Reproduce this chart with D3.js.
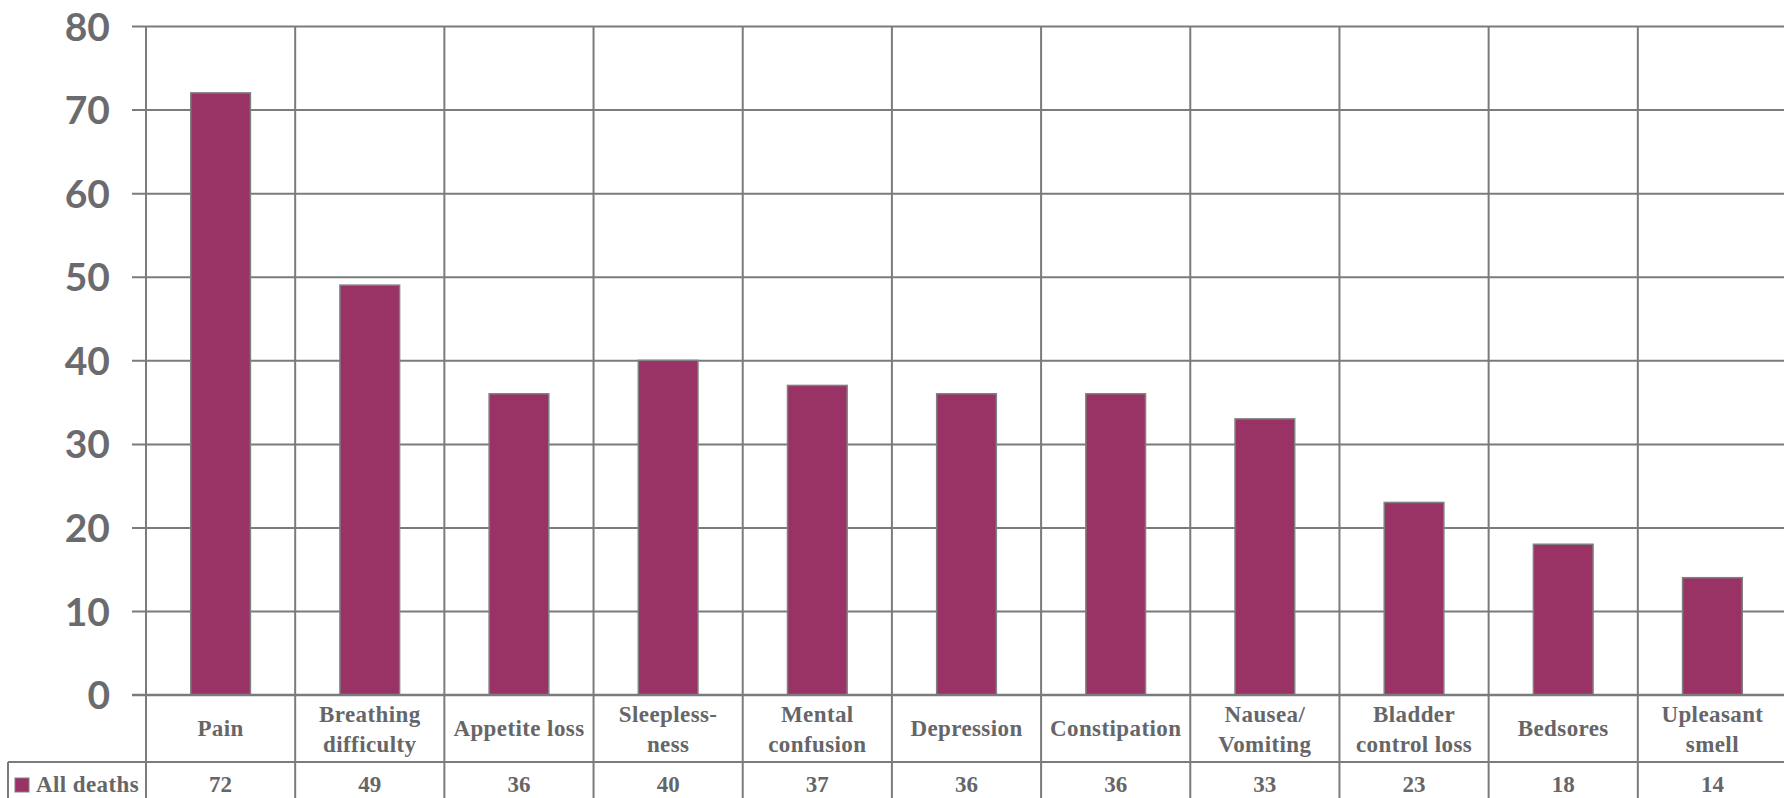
<!DOCTYPE html>
<html>
<head>
<meta charset="utf-8">
<script src="https://cdn.jsdelivr.net/npm/d3@7"></script>
<style>
  html, body { margin: 0; padding: 0; background: #fff; }
  svg { display: block; }
</style>
</head>
<body>
<script>
// ---- data ----
const categories = [
  ["Pain"],
  ["Breathing", "difficulty"],
  ["Appetite loss"],
  ["Sleepless-", "ness"],
  ["Mental", "confusion"],
  ["Depression"],
  ["Constipation"],
  ["Nausea/", "Vomiting"],
  ["Bladder", "control loss"],
  ["Bedsores"],
  ["Upleasant", "smell"]
];
const seriesName = "All deaths";
const values = [72, 49, 36, 40, 37, 36, 36, 33, 23, 18, 14];
const yTicks = [0, 10, 20, 30, 40, 50, 60, 70, 80];

// ---- layout ----
const W = 1784, H = 798;
const pLeft = 146, pRight = 1787, pTop = 26, pBottom = 694.7;
const row1 = 762, tableLeft = 8;
const gridColor = "#7b7b7e";
const textGray = "#666669";
const barColor = "#993366";

const svg = d3.select("body").append("svg").attr("width", W).attr("height", H);

const keys = categories.map((d, i) => i);
const x = d3.scaleBand().domain(keys).range([pLeft, pRight]).paddingInner(0).paddingOuter(0);
const y = d3.scaleLinear().domain([0, 80]).range([pBottom, pTop]);

// horizontal gridlines with ticks
const yAxis = d3.axisLeft(y).tickValues(yTicks).tickSize(pRight - pLeft + 14).tickPadding(22).tickFormat(d3.format("d"));
const gy = svg.append("g").attr("transform", `translate(${pRight},0)`).call(yAxis);
gy.select(".domain").remove();
gy.selectAll(".tick line").attr("stroke", gridColor).attr("stroke-width", 2);
gy.selectAll(".tick text")
  .attr("fill", "#6b6b6f")
  .attr("font-family", "Lato, 'Open Sans', sans-serif")
  .attr("font-weight", "bold")
  .attr("font-size", 39)
  .attr("dy", "0.36em");

// vertical column lines (plot + table)
const bounds = keys.map(k => x(k)).concat([pRight]);
svg.append("g").selectAll("line").data(bounds).join("line")
  .attr("x1", d => d).attr("x2", d => d)
  .attr("y1", pTop).attr("y2", H)
  .attr("stroke", gridColor).attr("stroke-width", 2);

// table lines
svg.append("line").attr("x1", tableLeft).attr("x2", pRight).attr("y1", row1).attr("y2", row1)
  .attr("stroke", gridColor).attr("stroke-width", 2);
svg.append("line").attr("x1", tableLeft).attr("x2", tableLeft).attr("y1", row1).attr("y2", H)
  .attr("stroke", gridColor).attr("stroke-width", 2);

// bars
const bw = x.bandwidth() * 0.4;
svg.append("g").selectAll("rect").data(values).join("rect")
  .attr("x", (d, i) => x(i) + (x.bandwidth() - bw) / 2)
  .attr("width", bw)
  .attr("y", d => y(d))
  .attr("height", d => y(0) - y(d))
  .attr("fill", barColor)
  .attr("stroke", "#808080")
  .attr("stroke-width", 1.5);

// redraw baseline on top
svg.append("line").attr("x1", pLeft - 14).attr("x2", pRight).attr("y1", y(0)).attr("y2", y(0))
  .attr("stroke", gridColor).attr("stroke-width", 2);

// category labels
const serif = "'Liberation Serif', 'Times New Roman', serif";
const catG = svg.append("g");
categories.forEach((lines, i) => {
  const cx = x(i) + x.bandwidth() / 2;
  const t = catG.append("text")
    .attr("x", cx)
    .attr("text-anchor", "middle")
    .attr("font-family", serif)
    .attr("font-weight", "bold")
    .attr("font-size", 23)
    .attr("letter-spacing", 0.4)
    .attr("fill", textGray);
  if (lines.length === 1) {
    t.append("tspan").attr("x", cx).attr("y", 736).text(lines[0]);
  } else {
    lines.forEach((l, j) => t.append("tspan").attr("x", cx).attr("y", 722 + j * 29.5).text(l));
  }
});

// data row
svg.append("g").selectAll("text").data(values).join("text")
  .attr("x", (d, i) => x(i) + x.bandwidth() / 2)
  .attr("y", 792)
  .attr("text-anchor", "middle")
  .attr("font-family", serif)
  .attr("font-weight", "bold")
  .attr("font-size", 23)
  .attr("fill", textGray)
  .text(d => d);

// legend key
svg.append("rect").attr("x", 15).attr("y", 778).attr("width", 14).attr("height", 14)
  .attr("fill", barColor).attr("stroke", "#808080").attr("stroke-width", 1);
svg.append("text").attr("x", 36).attr("y", 792)
  .attr("font-family", serif).attr("font-weight", "bold").attr("font-size", 23)
  .attr("letter-spacing", 0.4)
  .attr("fill", textGray).text(seriesName);
</script>
</body>
</html>
